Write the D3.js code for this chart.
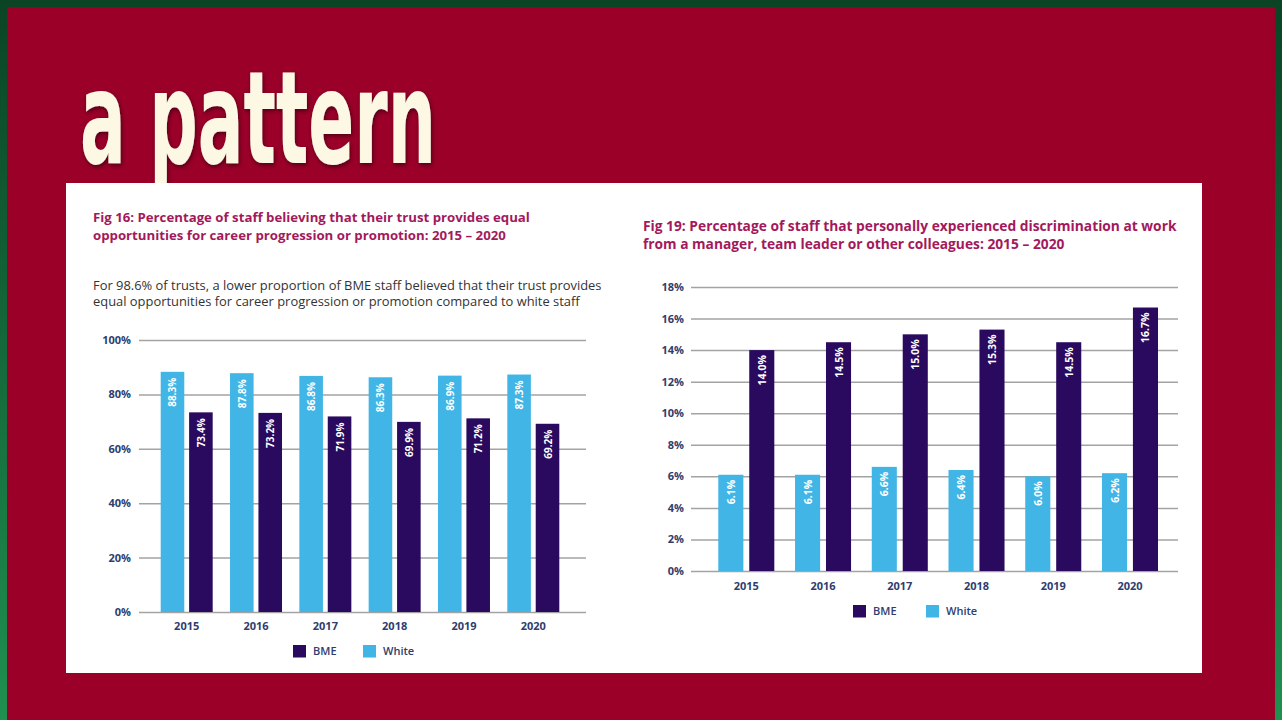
<!DOCTYPE html>
<html><head><meta charset="utf-8">
<script src="https://cdn.jsdelivr.net/npm/d3@7"></script>
<style>html,body{margin:0;padding:0;overflow:hidden;background:#0b4a27}</style>
</head><body>
<svg id="c" width="1282" height="720"></svg>
<script>
// ---- data ----
const years = ["2015", "2016", "2017", "2018", "2019", "2020"];
const fig16White = [88.3, 87.8, 86.8, 86.3, 86.9, 87.3];
const fig16BME = [73.4, 73.2, 71.9, 69.9, 71.2, 69.2];
const fig16Ticks = [0, 20, 40, 60, 80, 100];
const fig19White = [6.1, 6.1, 6.6, 6.4, 6.0, 6.2];
const fig19BME = [14.0, 14.5, 15.0, 15.3, 14.5, 16.7];
const fig19Ticks = [0, 2, 4, 6, 8, 10, 12, 14, 16, 18];
const seriesNames = ["White", "BME"];
const legendNames = ["BME", "White"];
const headline = "a pattern";
const fig16Title = ["Fig 16: Percentage of staff believing that their trust provides equal",
                    "opportunities for career progression or promotion: 2015 \u2013 2020"];
const fig16Sub = ["For 98.6% of trusts, a lower proportion of BME staff believed that their trust provides",
                  "equal opportunities for career progression or promotion compared to white staff"];
const fig19Title = ["Fig 19: Percentage of staff that personally experienced discrimination at work",
                    "from a manager, team leader or other colleagues: 2015 \u2013 2020"];

const colors = {White: "#41b6e6", BME: "#2a0a5e"};
const axisColor = "#2e3d6e";
const titleColor = "#a3195b";
const font = "'Open Sans', 'Noto Sans', sans-serif";

const svg = d3.select("#c");
const defs = svg.append("defs");
const grad = defs.append("linearGradient").attr("id", "gr").attr("x1", 0).attr("y1", 0).attr("x2", 0).attr("y2", 1);
grad.append("stop").attr("offset", "0%").attr("stop-color", "#0a4425");
grad.append("stop").attr("offset", "100%").attr("stop-color", "#1f9050");
const flt = defs.append("filter").attr("id", "sh").attr("x", "-10%").attr("y", "-10%").attr("width", "120%").attr("height", "130%");
flt.append("feDropShadow").attr("dx", 1).attr("dy", 2).attr("stdDeviation", 2).attr("flood-color", "#2a0008").attr("flood-opacity", 0.7);

svg.append("rect").attr("width", 1282).attr("height", 720).attr("fill", "url(#gr)");
svg.append("rect").attr("x", 7).attr("y", 7).attr("width", 1268).attr("height", 713).attr("fill", "#9b0029");

// headline
svg.append("text").attr("x", 80).attr("y", 163)
  .attr("font-family", "'DejaVu Sans Condensed', 'Liberation Sans Narrow', sans-serif")
  .attr("font-weight", 700).attr("font-size", 128)
  .attr("fill", "#fdf8e4").attr("filter", "url(#sh)")
  .attr("textLength", 356).attr("lengthAdjust", "spacingAndGlyphs")
  .text(headline);

// white panel
svg.append("rect").attr("x", 66).attr("y", 183).attr("width", 1136).attr("height", 490).attr("fill", "#ffffff");

function fitLines(lines, x, y0, lh, width, opts) {
  const sel = svg.append("g").selectAll("text").data(lines).join("text")
    .attr("x", x).attr("y", (d, i) => y0 + i * lh)
    .attr("font-family", font).attr("font-weight", opts.weight).attr("font-size", 13)
    .attr("fill", opts.color).text(d => d);
  const w = sel.nodes()[0].getComputedTextLength();
  sel.attr("font-size", 13 * width / w);
  return sel;
}

fitLines(fig16Title, 93, 222, 18, 437, {weight: 700, color: titleColor});
fitLines(fig16Sub, 93, 289.5, 16.5, 509, {weight: 400, color: "#333333"});
fitLines(fig19Title, 643, 231, 17.5, 534, {weight: 700, color: titleColor});

function drawChart(cfg) {
  const g = svg.append("g");
  const y = d3.scaleLinear().domain(cfg.domain).range([cfg.y0, cfg.y1]);
  const x = d3.scaleBand().domain(years).range([cfg.bx0, cfg.bx1]).paddingInner(cfg.pIn).paddingOuter(0);
  const xs = d3.scaleBand().domain(seriesNames).range([0, x.bandwidth()]).paddingInner(cfg.pSub).paddingOuter(0);

  // grid + y labels
  const ya = g.append("g").attr("transform", `translate(${cfg.gx0},0)`)
    .call(d3.axisLeft(y).tickValues(cfg.ticks).tickSize(-(cfg.gx1 - cfg.gx0)).tickPadding(cfg.tickPad).tickFormat(d => d + "%"));
  ya.select(".domain").remove();
  ya.selectAll(".tick line").attr("stroke", "#a3a3a3").attr("stroke-width", 1.5);
  ya.selectAll(".tick text").attr("font-family", font).attr("font-weight", 700).attr("font-size", 11).attr("fill", axisColor);

  // bars
  const data = years.map((yr, i) => ({year: yr, vals: [
    {s: "White", v: cfg.white[i]}, {s: "BME", v: cfg.bme[i]}]}));
  const grp = g.selectAll(".grp").data(data).join("g").attr("transform", d => `translate(${x(d.year)},0)`);
  grp.selectAll("rect").data(d => d.vals).join("rect")
    .attr("x", d => xs(d.s)).attr("width", xs.bandwidth())
    .attr("y", d => y(d.v)).attr("height", d => y(0) - y(d.v))
    .attr("fill", d => colors[d.s]);
  grp.selectAll("text").data(d => d.vals).join("text")
    .attr("transform", d => `translate(${xs(d.s) + xs.bandwidth() / 2 + 4},${y(d.v) + cfg.labPad}) rotate(-90)`)
    .attr("text-anchor", "end")
    .attr("font-family", font).attr("font-weight", 700).attr("font-size", cfg.labSize)
    .attr("fill", "#ffffff").text(d => d.v.toFixed(1) + "%");

  // x labels
  const xa = g.append("g").attr("transform", `translate(0,${cfg.y0})`)
    .call(d3.axisBottom(x).tickSize(0).tickPadding(cfg.xPad));
  xa.select(".domain").remove();
  xa.selectAll(".tick text").attr("font-family", font).attr("font-weight", 700).attr("font-size", 11).attr("fill", axisColor);

  // legend
  const lg = g.selectAll(".lg").data(legendNames).join("g")
    .attr("transform", (d, i) => `translate(${cfg.legX[i]},${cfg.legY})`);
  lg.append("rect").attr("x", 0).attr("y", -6).attr("width", 13).attr("height", 12.5).attr("fill", d => colors[d]);
  lg.append("text").attr("x", 20).attr("y", 4).attr("font-family", font).attr("font-weight", 600)
    .attr("font-size", 11).attr("fill", axisColor).text(d => d);
}

drawChart({domain: [0, 100], ticks: fig16Ticks, y0: 612, y1: 340, bx0: 160.7, bx1: 559.3, pIn: 0.25, pSub: 0.17,
  gx0: 139, gx1: 586, tickPad: 8, white: fig16White, bme: fig16BME, labPad: 6, labSize: 10,
  xPad: 10, legX: [293, 363], legY: 651});
drawChart({domain: [0, 18], ticks: fig19Ticks, y0: 571, y1: 287, bx0: 718.3, bx1: 1158, pIn: 0.27, pSub: 0.19,
  gx0: 691, gx1: 1178, tickPad: 7, white: fig19White, bme: fig19BME, labPad: 5, labSize: 10.5,
  xPad: 11, legX: [853, 926], legY: 611});
</script>
</body></html>
